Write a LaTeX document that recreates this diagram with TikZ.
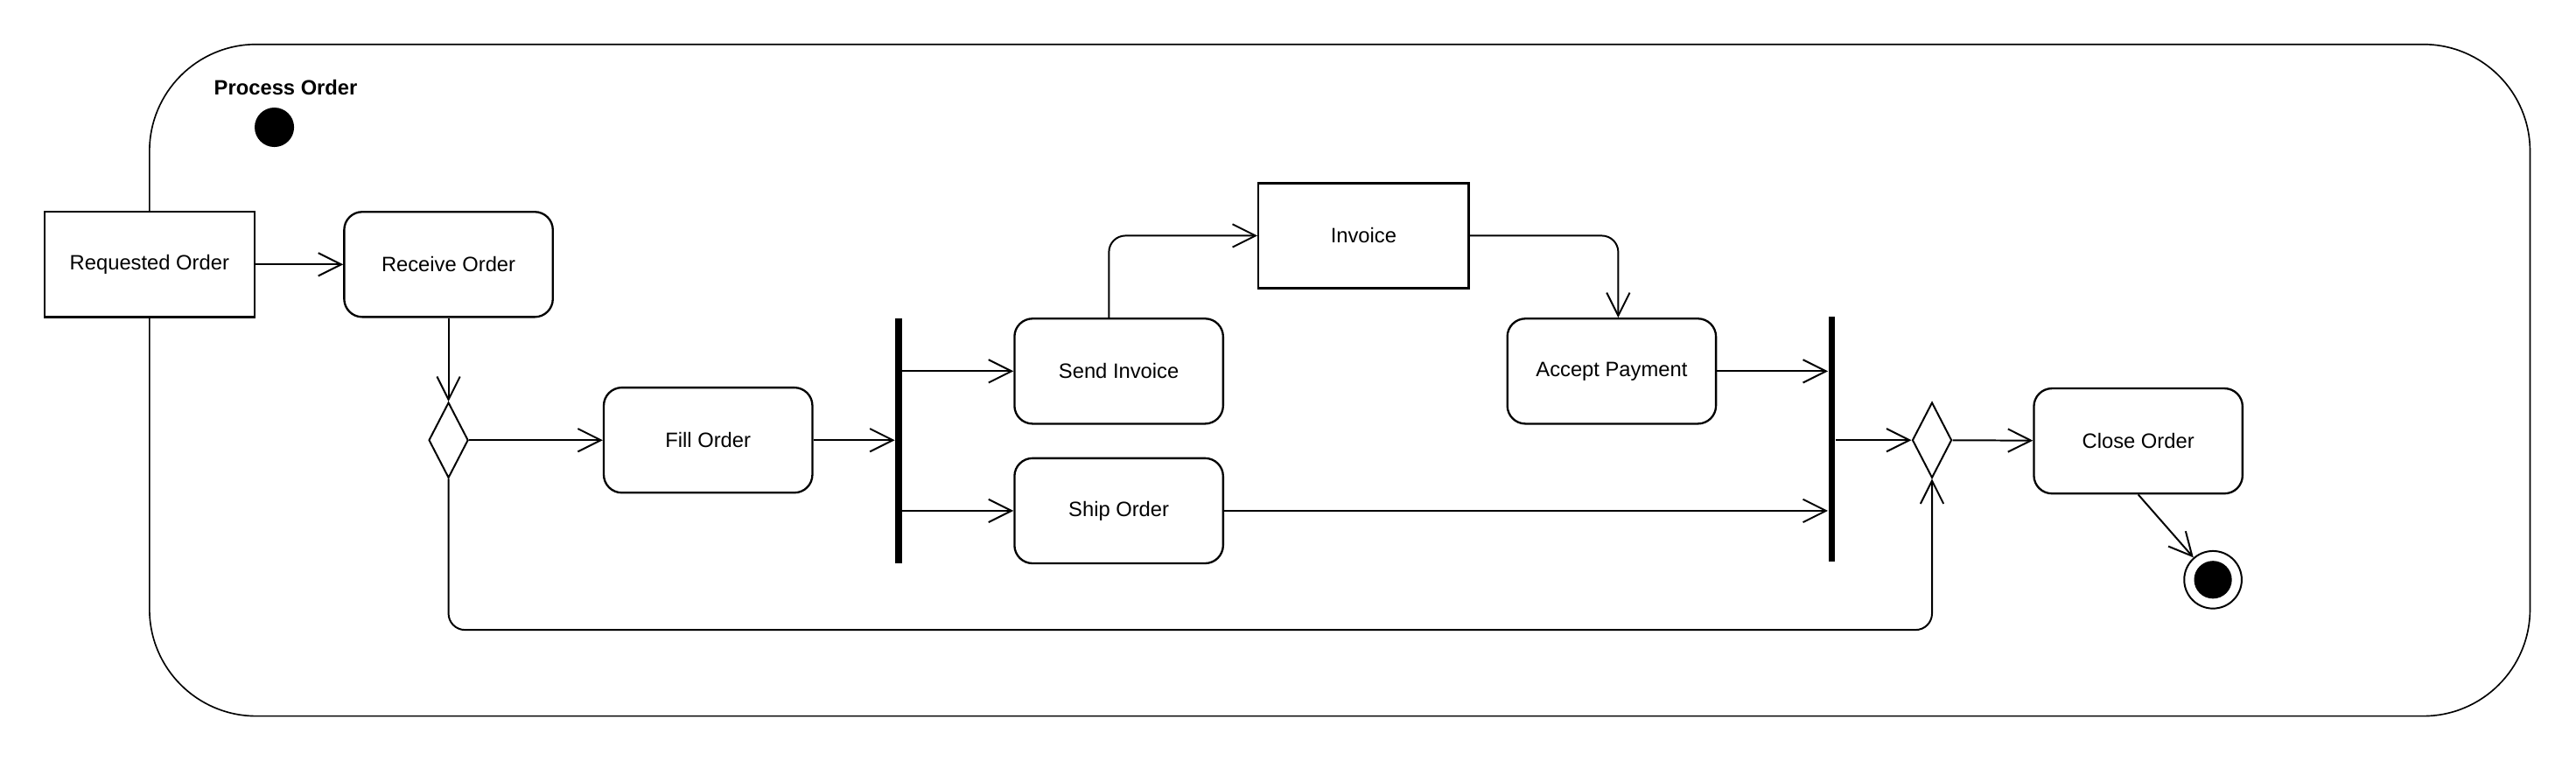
\documentclass[tikz,border=0pt]{standalone}
\usepackage{fontspec}
\setmainfont{Liberation Sans}
\usetikzlibrary{arrows.meta,shapes.geometric}

\begin{document}
\begin{tikzpicture}[
  every node/.style={font=\fontsize{7.2}{8.6}\selectfont},
  frame/.style={draw, line width=0.5pt, rounded corners=1.3cm},
  action/.style={
    draw,
    fill=white,
    rounded corners=0.22cm,
    minimum width=2.54cm,
    minimum height=1.28cm,
    align=center,
    line width=0.7pt
  },
  object/.style={
    draw,
    fill=white,
    minimum width=2.56cm,
    minimum height=1.28cm,
    align=center,
    line width=0.7pt
  },
  decision/.style={
    draw,
    diamond,
    fill=white,
    minimum width=0.48cm,
    minimum height=0.92cm,
    inner sep=0pt,
    line width=0.6pt
  },
  bar/.style={fill=black, minimum width=0.08cm, minimum height=2.98cm, inner sep=0pt},
  start/.style={circle, fill=black, minimum size=0.48cm, inner sep=0pt},
  finish/.style={circle, draw, fill=white, minimum size=0.70cm, inner sep=0pt, line width=0.6pt},
  arr/.style={-{Straight Barb[length=2.8mm,width=2.8mm]}, line width=0.6pt},
]

\useasboundingbox (0,0) rectangle (31.36,-9.26);

% Activity frame.
\draw[frame] (1.82,-0.54) rectangle (30.80,-8.72);
\node[font=\fontsize{7.2}{8.6}\selectfont\bfseries, anchor=west, inner sep=0pt] (title) at (2.60,-1.06) {Process Order};
\node[start] (init) at (3.34,-1.55) {};

% Main flow.
\node[object] (request) at (1.82,-3.22) {Requested Order};
\node[action] (receive) at (5.46,-3.22) {Receive Order};
\node[decision] (split) at (5.46,-5.36) {};
\node[action] (fill) at (8.62,-5.36) {Fill Order};
\node[bar] (fork) at (10.94,-5.37) {};

% Parallel branches.
\node[action] (send) at (13.62,-4.52) {Send Invoice};
\node[action] (ship) at (13.62,-6.22) {Ship Order};
\node[object] (invoice) at (16.60,-2.87) {Invoice};
\node[action] (payment) at (19.62,-4.52) {Accept Payment};
\node[bar] (join) at (22.30,-5.35) {};

% Closing.
\node[decision] (merge) at (23.52,-5.36) {};
\node[action] (close) at (26.03,-5.37) {Close Order};
\node[finish] (final) at (26.94,-7.06) {};
\node[start, minimum size=0.46cm] (finaldot) at (final.center) {};

\draw[arr] (request) -- (receive);
\draw[arr] (receive) -- (split);
\draw[arr] (split) -- (fill);
\draw[arr] (fill) -- (fork.west |- fill.east);
\draw[arr] (fork.east |- send.west) -- (send.west);
\draw[arr] (fork.east |- ship.west) -- (ship.west);
\draw[arr, rounded corners=0.2cm] ([xshift=-0.12cm]send.north) |- (invoice.west);
\draw[arr, rounded corners=0.2cm] (invoice.east) -| ([xshift=0.08cm]payment.north);
\draw[arr] (payment.east) -- (join.west |- payment.east);
\draw[arr] (ship.east) -- (join.west |- ship.east);
\draw[arr] (join.east |- merge.west) -- (merge.west);
\draw[arr] (merge) -- (close);
\draw[arr] (close.south) -- (final);
\draw[arr, rounded corners=0.2cm] (split.south) -- ++(0,-1.84) -| (merge.south);

\end{tikzpicture}
\end{document}
